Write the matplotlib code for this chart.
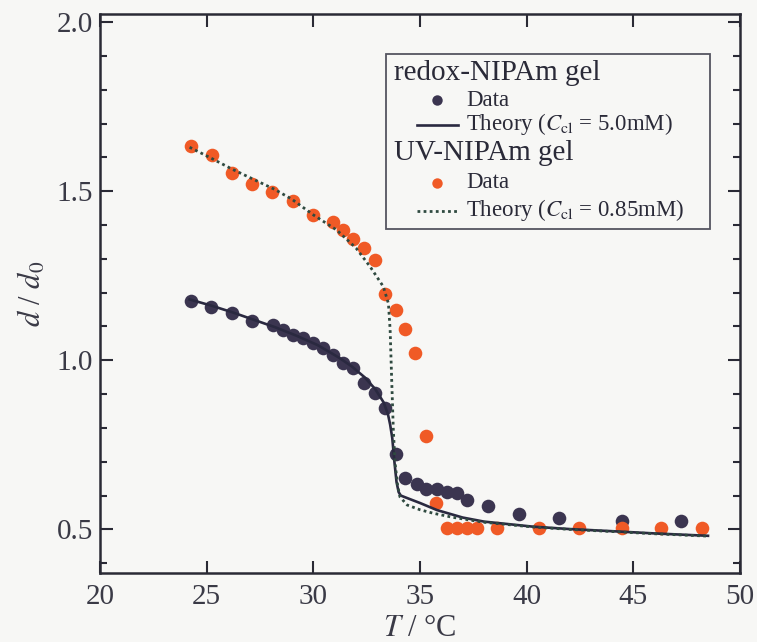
import matplotlib
matplotlib.use("Agg")
import matplotlib.pyplot as plt
from matplotlib.lines import Line2D
from matplotlib.patches import Rectangle
from matplotlib.ticker import MultipleLocator

plt.rcParams['font.family'] = ['Liberation Serif', 'DejaVu Serif']
plt.rcParams['mathtext.fontset'] = 'stix'

# redox-NIPAm gel data
redox_T = [24.25, 25.19, 26.17, 27.11, 28.12, 28.59, 29.06, 29.53, 30.0, 30.47, 30.94, 31.4, 31.87,
           32.37, 32.89, 33.36, 33.86, 34.3, 34.84, 35.3, 35.78, 36.25, 36.72, 37.2, 38.17, 39.64,
           41.52, 44.45, 47.24]
redox_d = [1.176, 1.158, 1.139, 1.117, 1.104, 1.09, 1.075, 1.065, 1.05, 1.035, 1.016, 0.991, 0.976,
           0.934, 0.904, 0.858, 0.722, 0.652, 0.635, 0.618, 0.618, 0.611, 0.608, 0.588, 0.568, 0.544,
           0.534, 0.525, 0.525]
# UV-NIPAm gel data
uv_T = [24.25, 25.24, 26.17, 27.11, 28.08, 29.03, 29.97, 30.94, 31.4, 31.87, 32.37, 32.89, 33.36,
        33.86, 34.3, 34.77, 35.28, 35.75, 36.25, 36.72, 37.19, 37.66, 38.6, 40.58, 42.47, 44.46,
        46.3, 48.23]
uv_d = [1.633, 1.607, 1.553, 1.521, 1.497, 1.471, 1.43, 1.41, 1.385, 1.358, 1.331, 1.296, 1.196,
        1.149, 1.093, 1.022, 0.776, 0.577, 0.503, 0.503, 0.503, 0.503, 0.503, 0.503, 0.503, 0.503,
        0.503, 0.503]
# Theory curves
th1_T = [24.2, 25.2, 26.2, 27.2, 28.2, 29.2, 30.2, 31.2, 31.8, 32.4, 32.9, 33.3, 33.5, 33.6, 33.7,
         33.8, 33.9, 34.0, 34.1, 34.3, 35.0, 35.8, 37.0, 38.0, 40.3, 42.0, 44.2, 46.0, 48.5]
th1_d = [1.18, 1.162, 1.142, 1.12, 1.098, 1.073, 1.045, 1.008, 0.982, 0.95, 0.915, 0.875, 0.84, 0.81,
         0.77, 0.70, 0.64, 0.61, 0.60, 0.595, 0.578, 0.557, 0.535, 0.523, 0.508, 0.501, 0.494, 0.488,
         0.481]
th2_T = [24.2, 25.2, 26.2, 27.2, 28.2, 29.0, 30.0, 31.1, 32.0, 32.66, 33.28, 33.52, 33.6, 33.67,
         33.75, 33.83, 33.95, 34.06, 34.4, 35.0, 35.6, 36.5, 38.0, 40.3, 42.0, 44.2, 46.0, 48.5]
th2_d = [1.63, 1.598, 1.565, 1.535, 1.505, 1.476, 1.43, 1.385, 1.332, 1.277, 1.218, 1.168, 1.09,
         0.948, 0.794, 0.697, 0.63, 0.596, 0.572, 0.558, 0.548, 0.536, 0.521, 0.507, 0.500, 0.493,
         0.487, 0.480]

bg = '#f7f7f5'
dark = '#3b3550'
orange = '#f05a26'
solid_c = '#2a2940'
dot_c = '#2f4a40'
spine_c = '#2a2a35'

fig = plt.figure(figsize=(7.57, 6.42), dpi=100, facecolor=bg)
ax = fig.add_axes([100/757, 1-573/642, 640/757, 559/642])
ax.set_facecolor(bg)

ax.plot(th1_T, th1_d, '-', color=solid_c, lw=1.9, zorder=3)
ax.plot(th2_T, th2_d, linestyle=(0, (1, 1.2)), color=dot_c, lw=2.0, zorder=3)
ax.plot(redox_T, redox_d, 'o', color=dark, ms=9.8, mec='none', zorder=2)
ax.plot(uv_T, uv_d, 'o', color=orange, ms=9.8, mec='none', zorder=2)

ax.set_xlim(20, 50)
ax.set_ylim(0.371, 2.024)
ax.xaxis.set_major_locator(MultipleLocator(5))
ax.yaxis.set_minor_locator(MultipleLocator(0.1))
ax.set_yticks([0.5, 1.0, 1.5, 2.0])
ax.set_yticklabels(['0.5', '1.0', '1.5', '2.0'])
ax.tick_params(which='both', direction='in', top=True, right=True, color=spine_c,
               labelsize=21, labelcolor='#3a3a46', width=1.5)
ax.tick_params(which='major', length=9)
ax.tick_params(axis='x', which='major', pad=8)
ax.tick_params(axis='y', which='major', pad=5)
ax.tick_params(which='minor', length=5)
for s in ax.spines.values():
    s.set_linewidth(1.8)
    s.set_color(spine_c)

ax.set_xlabel(r'$T$ / °C', fontsize=22, color='#3a3a46', labelpad=3)
ax.set_ylabel(r'$d$ / $d_0$', fontsize=22, color='#3a3a46', labelpad=6)

# custom legend box (axes-fraction coordinates)
def fx(px):
    return (px - 100) / 640.0

def fy(py):
    return (573 - py) / 559.0

ax.add_patch(Rectangle((fx(386), fy(229)), fx(710) - fx(386), fy(54) - fy(229),
                       transform=ax.transAxes, fill=True, facecolor=bg, edgecolor='#555560',
                       lw=1.3, zorder=5))
tc = '#2a2a38'
hx0, hx1, mx, tx = fx(417), fx(458), fx(437), fx(466)
ax.text(fx(394), fy(73), 'redox-NIPAm gel', transform=ax.transAxes, fontsize=21,
        va='center', ha='left', color=tc, zorder=6)
ax.add_line(Line2D([mx], [fy(100)], marker='o', ms=7.5, color=dark, mec='none',
                   transform=ax.transAxes, zorder=6))
ax.text(tx, fy(100), 'Data', transform=ax.transAxes, fontsize=16.5, va='center', ha='left',
        color=tc, zorder=6)
ax.add_line(Line2D([hx0, hx1], [fy(125), fy(125)], color=solid_c, lw=1.9,
                   transform=ax.transAxes, zorder=6))
ax.text(tx, fy(124), r'Theory ($C_{\rm cl}$ = 5.0mM)', transform=ax.transAxes, fontsize=16.5,
        va='center', ha='left', color=tc, zorder=6)
ax.text(fx(394), fy(153), 'UV-NIPAm gel', transform=ax.transAxes, fontsize=21,
        va='center', ha='left', color=tc, zorder=6)
ax.add_line(Line2D([mx], [fy(183)], marker='o', ms=7.5, color=orange, mec='none',
                   transform=ax.transAxes, zorder=6))
ax.text(tx, fy(183), 'Data', transform=ax.transAxes, fontsize=16.5, va='center', ha='left',
        color=tc, zorder=6)
ax.add_line(Line2D([hx0, hx1], [fy(211), fy(211)], color=dot_c, lw=2.0, linestyle=(0, (1, 1.2)),
                   transform=ax.transAxes, zorder=6))
ax.text(tx, fy(210), r'Theory ($C_{\rm cl}$ = 0.85mM)', transform=ax.transAxes, fontsize=16.5,
        va='center', ha='left', color=tc, zorder=6)

fig.savefig('out.png', dpi=100, facecolor=bg)
